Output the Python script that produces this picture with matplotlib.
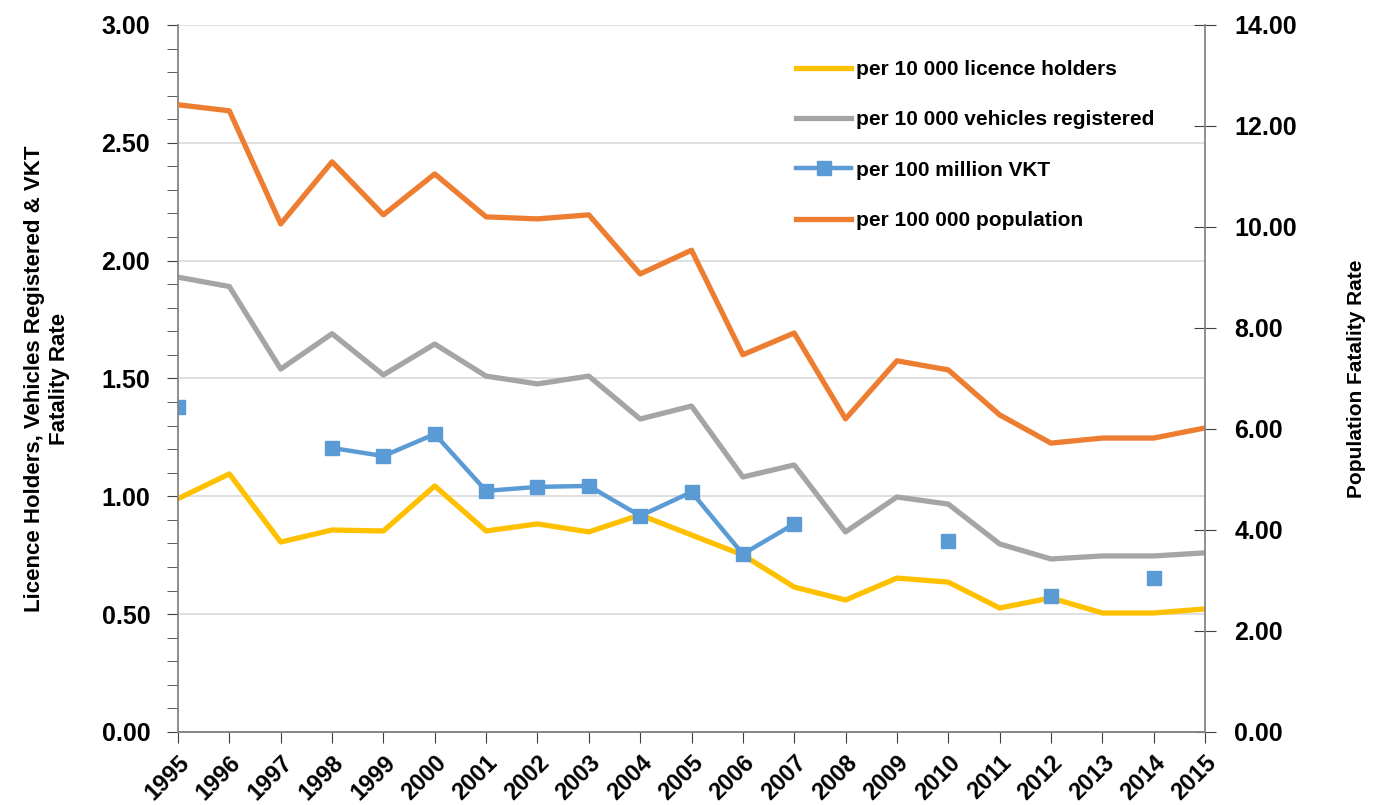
import matplotlib.pyplot as plt
import numpy as np
from matplotlib.ticker import MultipleLocator, FormatStrFormatter

years = list(range(1995, 2016))
licence = [0.99, 1.095, 0.806, 0.857, 0.853, 1.044, 0.853, 0.883, 0.849, 0.921,
           0.836, 0.751, 0.615, 0.56, 0.653, 0.636, 0.526, 0.569, 0.505, 0.505, 0.522]
vehicles = [1.93, 1.89, 1.54, 1.69, 1.515, 1.646, 1.51, 1.477, 1.51, 1.328,
            1.383, 1.082, 1.133, 0.849, 0.997, 0.967, 0.798, 0.734, 0.747, 0.747, 0.76]
nan = np.nan
vkt = [1.379, nan, nan, 1.205, 1.171, 1.264, 1.023, 1.04, 1.044, 0.917,
       1.018, 0.755, 0.883, nan, nan, 0.81, nan, 0.577, nan, 0.653, nan]
population = [12.42, 12.30, 10.06, 11.29, 10.24, 11.05, 10.20, 10.16, 10.24, 9.07,
              9.54, 7.47, 7.90, 6.20, 7.35, 7.17, 6.28, 5.72, 5.82, 5.82, 6.02]

plt.rcParams['font.family'] = ['Liberation Sans', 'DejaVu Sans']
plt.rcParams['font.weight'] = 'bold'

fig = plt.figure(figsize=(13.83, 8.05), dpi=100)
ax = fig.add_axes([0.1287, 0.0907, 0.7426, 0.8783])
ax2 = ax.twinx()

axis_col = '#868686'

l1, = ax.plot(years, licence, color='#FFC000', lw=3.8, label='per 10 000 licence holders')
l2, = ax.plot(years, vehicles, color='#A5A5A5', lw=3.8, label='per 10 000 vehicles registered')
l3, = ax.plot(years, vkt, color='#5B9BD5', lw=3.2, marker='s', markersize=10,
              label='per 100 million VKT')
l4, = ax2.plot(years, population, color='#ED7D31', lw=3.8, label='per 100 000 population')

ax.set_xlim(1995, 2015)
ax.set_ylim(0, 3)
ax2.set_ylim(0, 14)
ax.yaxis.set_major_locator(MultipleLocator(0.5))
ax.yaxis.set_minor_locator(MultipleLocator(0.1))
ax.yaxis.set_major_formatter(FormatStrFormatter('%.2f'))
ax2.yaxis.set_major_locator(MultipleLocator(2))
ax2.yaxis.set_major_formatter(FormatStrFormatter('%.2f'))
ax.set_xticks(years)
ax.set_xticklabels([str(y) for y in years], rotation=45, ha='right',
                   rotation_mode='anchor', fontsize=17, fontweight='bold')
ax.grid(axis='y', color='#D9D9D9', lw=1.2)
ax.set_axisbelow(True)

for a in (ax, ax2):
    a.spines['top'].set_visible(False)
    for s in a.spines.values():
        s.set_color(axis_col)
        s.set_linewidth(1.3)
ax2.spines['left'].set_visible(False)
ax.spines['right'].set_visible(False)

ax.tick_params(axis='y', which='major', length=8, color='#404040', labelsize=18, pad=12)
ax.tick_params(axis='y', which='minor', length=8, color='#404040')
ax.tick_params(axis='x', length=8, color='#404040', pad=6)
ax2.tick_params(axis='y', direction='inout', length=16, color='#404040', labelsize=18, pad=13)

ax.set_ylabel('Licence Holders, Vehicles Registered & VKT\nFatality Rate',
              fontsize=16, fontweight='bold', labelpad=23)
ax2.set_ylabel('Population Fatality Rate', fontsize=15, fontweight='bold', labelpad=36)

ax2.legend(handles=[l1, l2, l3, l4], loc='upper left', bbox_to_anchor=(0.594, 0.962),
           frameon=False, fontsize=15, labelspacing=1.5, handlelength=2.64,
           handletextpad=0.2, borderaxespad=0)

fig.savefig('out.png', dpi=100)
